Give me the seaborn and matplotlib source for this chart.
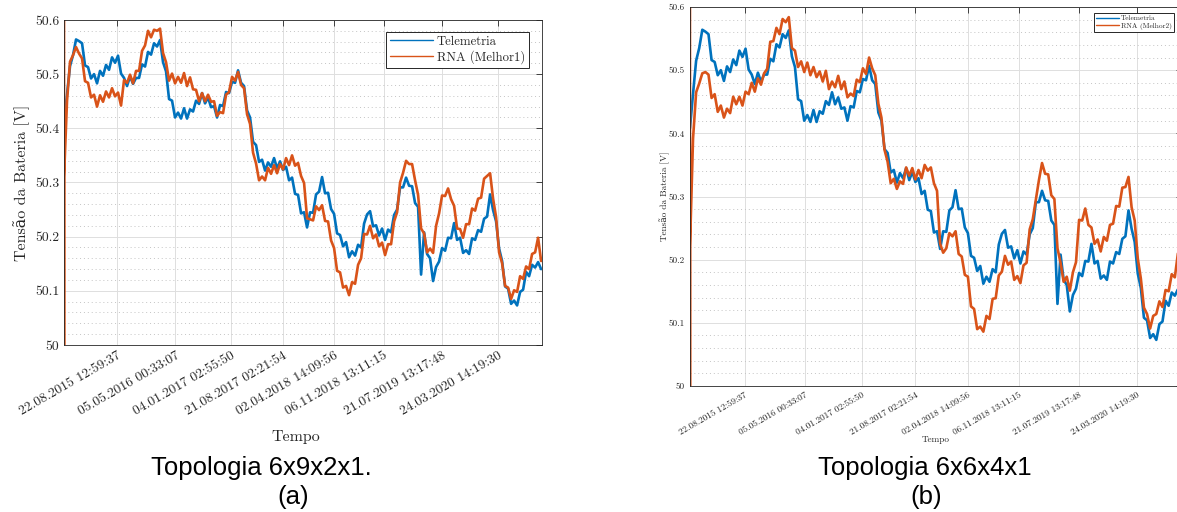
import pandas as pd
import matplotlib
matplotlib.use("Agg")
import matplotlib.pyplot as plt
import matplotlib.dates as mdates
import matplotlib.ticker as mticker
import seaborn as sns

sns.set_style("white")
plt.rcParams['font.family'] = ['cmr10', 'DejaVu Serif']
plt.rcParams['axes.unicode_minus'] = False
plt.rcParams['axes.formatter.use_mathtext'] = True

# time axis of the series
start_time = '2015-01-01 00:00:00'
end_time = '2020-09-29 00:00:00'
axis_end = '2020-10-03 00:00:00'
tick_times = ['22.08.2015 12:59:37', '05.05.2016 00:33:07', '04.01.2017 02:55:50',
              '21.08.2017 02:21:54', '02.04.2018 14:09:56', '06.11.2018 13:11:15',
              '21.07.2019 13:17:48', '24.03.2020 14:19:30']
y_ticks = [50.0, 50.1, 50.2, 50.3, 50.4, 50.5, 50.6]

# battery voltage (telemetry), same in both panels
telemetria = [
    50.408, 50.463, 50.515, 50.535, 50.564, 50.561, 50.557, 50.516, 50.513, 50.492,
    50.500, 50.483, 50.506, 50.497, 50.517, 50.508, 50.531, 50.521, 50.534, 50.501,
    50.493, 50.478, 50.496, 50.482, 50.493, 50.493, 50.518, 50.514, 50.541, 50.536,
    50.557, 50.551, 50.563, 50.522, 50.505, 50.454, 50.451, 50.420, 50.429, 50.418,
    50.437, 50.418, 50.435, 50.431, 50.451, 50.445, 50.465, 50.446, 50.457, 50.439,
    50.441, 50.420, 50.443, 50.441, 50.467, 50.465, 50.486, 50.484, 50.507, 50.484,
    50.478, 50.433, 50.420, 50.375, 50.369, 50.338, 50.342, 50.322, 50.337, 50.329,
    50.345, 50.326, 50.339, 50.323, 50.329, 50.304, 50.309, 50.279, 50.277, 50.243,
    50.245, 50.217, 50.245, 50.244, 50.278, 50.283, 50.310, 50.280, 50.281, 50.251,
    50.242, 50.206, 50.203, 50.182, 50.190, 50.162, 50.173, 50.165, 50.185, 50.180,
    50.224, 50.241, 50.247, 50.219, 50.221, 50.202, 50.215, 50.194, 50.213, 50.208,
    50.240, 50.250, 50.291, 50.291, 50.309, 50.294, 50.293, 50.262, 50.255, 50.130,
    50.208, 50.168, 50.160, 50.118, 50.144, 50.154, 50.179, 50.174, 50.198, 50.197,
    50.225, 50.194, 50.198, 50.170, 50.175, 50.168, 50.197, 50.194, 50.212, 50.209,
    50.233, 50.237, 50.278, 50.249, 50.228, 50.178, 50.155, 50.108, 50.104, 50.076,
    50.082, 50.073, 50.098, 50.102, 50.135, 50.127, 50.148, 50.143, 50.153, 50.140,
]

# network output, topology 6x9x2x1
rna_melhor1 = [
    50.310, 50.451, 50.523, 50.535, 50.550, 50.538, 50.529, 50.487, 50.484, 50.457,
    50.462, 50.440, 50.461, 50.449, 50.468, 50.457, 50.474, 50.459, 50.466, 50.442,
    50.489, 50.484, 50.499, 50.483, 50.506, 50.506, 50.543, 50.553, 50.580, 50.568,
    50.582, 50.580, 50.584, 50.539, 50.522, 50.488, 50.501, 50.483, 50.495, 50.484,
    50.502, 50.478, 50.494, 50.472, 50.471, 50.450, 50.465, 50.450, 50.462, 50.449,
    50.450, 50.423, 50.430, 50.428, 50.462, 50.467, 50.495, 50.488, 50.504, 50.480,
    50.474, 50.426, 50.408, 50.355, 50.335, 50.304, 50.311, 50.304, 50.327, 50.316,
    50.332, 50.317, 50.334, 50.324, 50.345, 50.332, 50.350, 50.331, 50.336, 50.312,
    50.299, 50.234, 50.232, 50.230, 50.256, 50.249, 50.258, 50.229, 50.228, 50.193,
    50.179, 50.137, 50.134, 50.106, 50.109, 50.092, 50.116, 50.113, 50.148, 50.160,
    50.205, 50.204, 50.220, 50.197, 50.204, 50.182, 50.189, 50.166, 50.186, 50.186,
    50.228, 50.245, 50.300, 50.318, 50.340, 50.334, 50.334, 50.304, 50.277, 50.215,
    50.206, 50.171, 50.178, 50.170, 50.220, 50.243, 50.276, 50.275, 50.289, 50.269,
    50.257, 50.215, 50.214, 50.198, 50.223, 50.223, 50.252, 50.248, 50.270, 50.272,
    50.307, 50.312, 50.317, 50.270, 50.236, 50.171, 50.151, 50.109, 50.106, 50.085,
    50.101, 50.098, 50.127, 50.122, 50.145, 50.140, 50.168, 50.171, 50.198, 50.155,
]

# network output, topology 6x6x4x1
rna_melhor2 = [
    50.220, 50.392, 50.465, 50.479, 50.495, 50.497, 50.493, 50.456, 50.462, 50.434,
    50.444, 50.425, 50.439, 50.432, 50.458, 50.446, 50.458, 50.444, 50.466, 50.462,
    50.480, 50.466, 50.487, 50.477, 50.495, 50.502, 50.545, 50.546, 50.567, 50.557,
    50.581, 50.576, 50.584, 50.535, 50.531, 50.505, 50.514, 50.497, 50.512, 50.492,
    50.505, 50.489, 50.498, 50.482, 50.499, 50.470, 50.482, 50.473, 50.491, 50.470,
    50.482, 50.457, 50.463, 50.459, 50.485, 50.481, 50.503, 50.494, 50.520, 50.503,
    50.492, 50.447, 50.425, 50.374, 50.355, 50.321, 50.328, 50.312, 50.324, 50.320,
    50.346, 50.333, 50.345, 50.327, 50.342, 50.329, 50.350, 50.341, 50.346, 50.321,
    50.309, 50.225, 50.211, 50.218, 50.242, 50.237, 50.245, 50.209, 50.205, 50.176,
    50.173, 50.126, 50.122, 50.090, 50.094, 50.086, 50.111, 50.106, 50.138, 50.139,
    50.175, 50.181, 50.206, 50.192, 50.197, 50.168, 50.174, 50.163, 50.191, 50.195,
    50.248, 50.264, 50.295, 50.326, 50.353, 50.336, 50.335, 50.302, 50.296, 50.218,
    50.195, 50.165, 50.173, 50.151, 50.180, 50.196, 50.263, 50.262, 50.281, 50.255,
    50.251, 50.225, 50.232, 50.213, 50.236, 50.230, 50.255, 50.257, 50.285, 50.284,
    50.314, 50.315, 50.331, 50.283, 50.262, 50.202, 50.170, 50.124, 50.114, 50.091,
    50.111, 50.114, 50.134, 50.125, 50.152, 50.150, 50.177, 50.172, 50.210, 50.204,
]

# first network outputs, far outside the plotted range
rna_start = [50.75, 49.9]

blue = '#0072BD'
orange = '#D95319'
dark = '#262626'

times = list(pd.date_range(start_time, end_time, periods=len(telemetria)))
rna_times = [times[0], times[0]] + times


def style_axes(ax, tick_size, label_size):
    ax.set_ylim(50, 50.6)
    ax.set_xlim(pd.Timestamp(start_time), pd.Timestamp(axis_end))
    ax.set_yticks(y_ticks)
    ax.yaxis.set_minor_locator(mticker.MultipleLocator(0.02))
    ax.yaxis.set_major_formatter(mticker.FuncFormatter(lambda v, p: f'{v:g}'))
    ax.set_xticks(pd.to_datetime(tick_times, format='%d.%m.%Y %H:%M:%S'))
    ax.xaxis.set_major_formatter(mdates.DateFormatter('%d.%m.%Y %H:%M:%S'))
    ax.grid(True, which='major', color='#dedede', linewidth=0.7)
    ax.grid(True, which='minor', axis='y', color='#c4c4c4', linestyle=(0, (1, 3)), linewidth=0.7)
    ax.tick_params(which='major', direction='in', top=True, right=True, length=4,
                   width=0.6, colors=dark, labelsize=tick_size)
    ax.tick_params(which='minor', length=0)
    plt.setp(ax.get_xticklabels(), rotation=30, ha='right', rotation_mode='anchor')
    for s in ax.spines.values():
        s.set_color(dark)
        s.set_linewidth(0.6)
    ax.set_xlabel('Tempo', fontsize=label_size, color=dark)
    ax.set_ylabel('Tensão da Bateria [V]', fontsize=label_size, color=dark)


fig = plt.figure(figsize=(11.77, 5.12), dpi=100)
ax1 = fig.add_axes([0.0544, 0.3262, 0.4061, 0.6348])
ax2 = fig.add_axes([0.5862, 0.2461, 0.4180, 0.7402])

panels = [(ax1, rna_melhor1, 'RNA (Melhor1)', 9.8, 11.5),
          (ax2, rna_melhor2, 'RNA (Melhor2)', 6.6, 6.6)]
for ax, rna, name, tsize, lsize in panels:
    sns.lineplot(x=times, y=telemetria, ax=ax, color=blue, linewidth=1.9,
                 estimator=None, sort=False, label='Telemetria')
    sns.lineplot(x=rna_times, y=rna_start + rna, ax=ax, color=orange, linewidth=1.9,
                 estimator=None, sort=False, label=name)
    style_axes(ax, tsize, lsize)

ax1.xaxis.set_label_coords(0.485, -0.262)
ax1.yaxis.set_label_coords(-0.071, 0.5)
ax2.xaxis.set_label_coords(0.5, -0.132)
ax2.yaxis.set_label_coords(-0.041, 0.5)

leg1 = ax1.legend(loc='upper right', bbox_to_anchor=(529 / 1177, 1 - 32 / 512),
                  bbox_transform=fig.transFigure, fontsize=9.2, handlelength=3.4,
                  fancybox=False, framealpha=1, edgecolor=dark, borderpad=0.3,
                  labelspacing=0.2, handletextpad=0.3, borderaxespad=0)
leg2 = ax2.legend(loc='upper right', bbox_to_anchor=(1174 / 1177, 1 - 13 / 512),
                  bbox_transform=fig.transFigure, fontsize=5.3, handlelength=3.1,
                  fancybox=False, framealpha=1, edgecolor=dark, borderpad=0.3,
                  labelspacing=0.2, handletextpad=0.3, borderaxespad=0)
for leg in (leg1, leg2):
    leg.get_frame().set_linewidth(0.7)
    for line in leg.get_lines():
        line.set_linewidth(1.0)
    for t in leg.get_texts():
        t.set_color(dark)

cap = dict(family=['Liberation Sans', 'DejaVu Sans'], fontsize=18.5, ha='center', va='center', color='black')
fig.text(261 / 1177, 1 - 468 / 512, 'Topologia 6x9x2x1.', **cap)
fig.text(293 / 1177, 1 - 497 / 512, '(a)', **cap)
fig.text(925 / 1177, 1 - 468 / 512, 'Topologia 6x6x4x1', **cap)
fig.text(926 / 1177, 1 - 497 / 512, '(b)', **cap)

fig.savefig('out.png', dpi=100)
